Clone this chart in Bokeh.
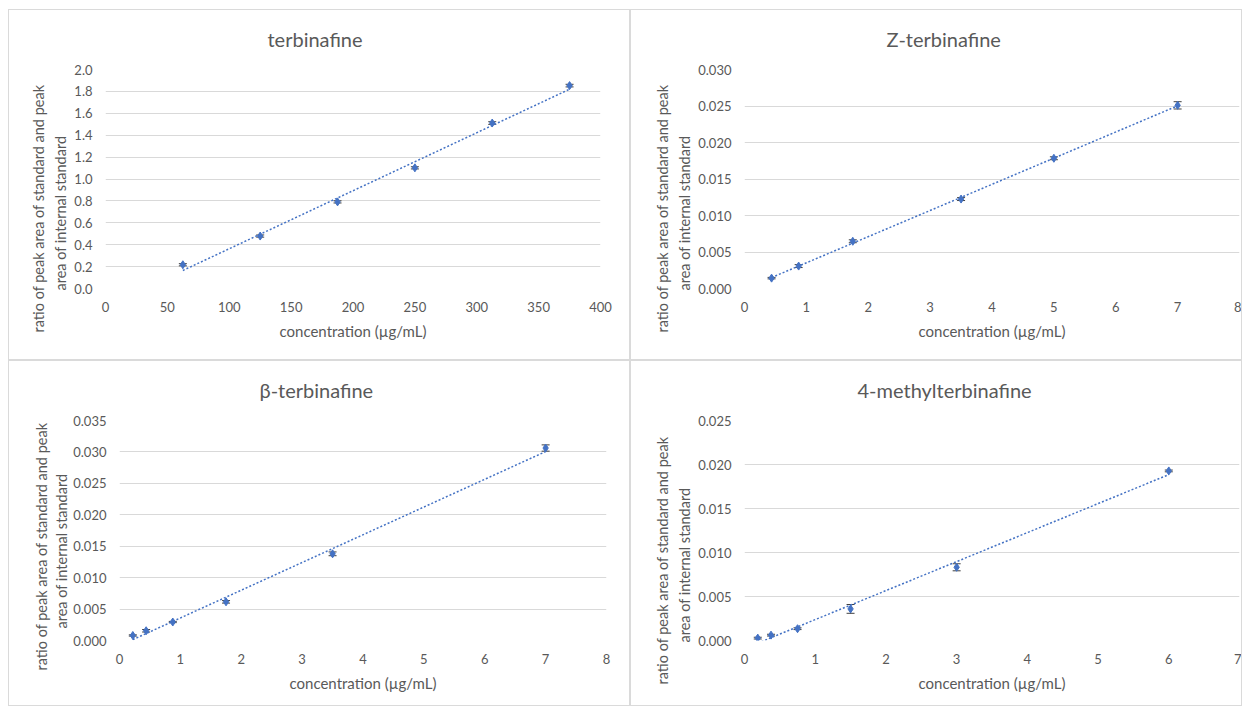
import numpy as np
from bokeh.plotting import figure
from bokeh.models import (Title, Whisker, ColumnDataSource, SingleIntervalTicker,
                          NumeralTickFormatter, Range1d, TeeHead)
from bokeh.layouts import column, row
from bokeh.embed import file_html
from bokeh.resources import INLINE

# ---------------- data ----------------
terb_x = [62.5, 125, 187.5, 250, 312.5, 375]
terb_y = [0.217, 0.479, 0.791, 1.102, 1.511, 1.853]
terb_err = [0.010, 0.010, 0.010, 0.010, 0.012, 0.012]

z_x = [0.4375, 0.875, 1.75, 3.5, 5, 7]
z_y = [0.00142, 0.00307, 0.00647, 0.01225, 0.01784, 0.02509]
z_err = [0.0001, 0.0002, 0.0002, 0.0002, 0.0002, 0.0005]

beta_x = [0.21875, 0.4375, 0.875, 1.75, 3.5, 7]
beta_y = [0.00080, 0.00155, 0.00294, 0.00615, 0.01379, 0.03062]
beta_err = [0.0001, 0.0002, 0.0001, 0.0002, 0.0003, 0.0005]

me_x = [0.1875, 0.375, 0.75, 1.5, 3, 6]
me_y = [0.00027, 0.00061, 0.00134, 0.00359, 0.00832, 0.01927]
me_err = [0.0001, 0.0001, 0.0001, 0.0005, 0.0004, 0.0001]

titles = ["terbinafine", "Z-terbinafine", "\u03b2-terbinafine", "4-methylterbinafine"]
x_title = "concentration (\u00b5g/mL)"
y_title_1 = "ratio of peak area of standard and peak"
y_title_2 = "area of internal standard"

FONT = "Lato"
TXT = "#595959"
GRID = "#d9d9d9"
BLUE = "#4472C4"


def panel(xs, ys, errs, title, x_end, x_step, y_end, y_step, y_fmt,
          W, H, left, right, top, bottom, title_off, yt_off, yt_standoff):
    p = figure(width=W, height=H, output_backend="svg", toolbar_location=None,
               x_range=Range1d(0, x_end), y_range=Range1d(0, y_end),
               min_border_left=left, min_border_right=right,
               min_border_top=top, min_border_bottom=bottom,
               styles={"border": "1px solid #dadada"})
    p.outline_line_color = None
    p.background_fill_color = "white"
    p.border_fill_color = "white"
    p.xgrid.grid_line_color = None
    p.ygrid.grid_line_color = GRID
    p.ygrid.grid_line_width = 1

    p.xaxis.ticker = SingleIntervalTicker(interval=x_step, num_minor_ticks=0)
    p.yaxis.ticker = SingleIntervalTicker(interval=y_step, num_minor_ticks=0)
    p.yaxis.formatter = NumeralTickFormatter(format=y_fmt)
    for ax in (p.xaxis, p.yaxis):
        ax.axis_line_color = None
        ax.major_tick_line_color = None
        ax.minor_tick_line_color = None
        ax.major_tick_out = 0
        ax.major_tick_in = 0
        ax.major_label_text_font = FONT
        ax.major_label_text_font_size = "13px"
        ax.major_label_text_color = TXT
    p.xaxis.major_label_standoff = 13
    p.yaxis.major_label_standoff = 13
    p.xaxis.axis_label = x_title
    p.xaxis.axis_label_text_font = FONT
    p.xaxis.axis_label_text_font_size = "15px"
    p.xaxis.axis_label_text_font_style = "normal"
    p.xaxis.axis_label_text_color = TXT
    p.xaxis.axis_label_standoff = 7

    p.add_layout(Title(text=title, align="left", offset=title_off, standoff=33,
                       vertical_align="top",
                       text_font=FONT, text_font_size="20px", text_font_style="normal",
                       text_color=TXT), "above")
    # y-axis title, two lines (inner line first, so it sits next to the axis)
    p.add_layout(Title(text=y_title_2, align="left", offset=yt_off[1], standoff=yt_standoff,
                       text_font=FONT, text_font_size="14.5px", text_font_style="normal",
                       text_color=TXT), "left")
    p.add_layout(Title(text=y_title_1, align="left", offset=yt_off[0], standoff=2,
                       text_font=FONT, text_font_size="14.5px", text_font_style="normal",
                       text_color=TXT), "left")

    # trendline (linear least squares over the data range)
    k, b = np.polyfit(np.array(xs, float), np.array(ys, float), 1)
    tx_ = np.array([xs[0], xs[-1]], float)
    p.line(tx_, k * tx_ + b, line_color=BLUE, line_width=1.5, line_dash="2 2")

    src = ColumnDataSource(dict(x=xs, y=ys,
                                lo=[y - e for y, e in zip(ys, errs)],
                                hi=[y + e for y, e in zip(ys, errs)]))
    p.add_layout(Whisker(source=src, base="x", lower="lo", upper="hi",
                         line_color="#404040", line_width=1,
                         upper_head=TeeHead(size=8, line_color="#404040", line_width=1),
                         lower_head=TeeHead(size=8, line_color="#404040", line_width=1)))
    p.scatter("x", "y", source=src, marker="diamond", size=8,
              fill_color=BLUE, line_color=BLUE)
    return p


p1 = panel(terb_x, terb_y, terb_err, titles[0], 400, 50, 2.0, 0.2, "0.0",
           622, 351, 96, 31, 58, 73, 162, (-44, -2), 5)
p2 = panel(z_x, z_y, z_err, titles[1], 8, 1, 0.030, 0.005, "0.000",
           612, 351, 113, 4, 58, 73, 142, (-44, -2), 5)
p3 = panel(beta_x, beta_y, beta_err, titles[2], 8, 1, 0.035, 0.005, "0.000",
           622, 346, 110, 25, 59, 67, 140, (-30, 12), 1)
p4 = panel(me_x, me_y, me_err, titles[3], 7, 1, 0.025, 0.005, "0.000",
           612, 346, 113, 4, 59, 67, 113, (-44, -2), 5)

layout = column(row(p1, p2), row(p3, p4), margin=(9, 0, 0, 8))

open("out.html", "w").write(file_html(layout, INLINE))
